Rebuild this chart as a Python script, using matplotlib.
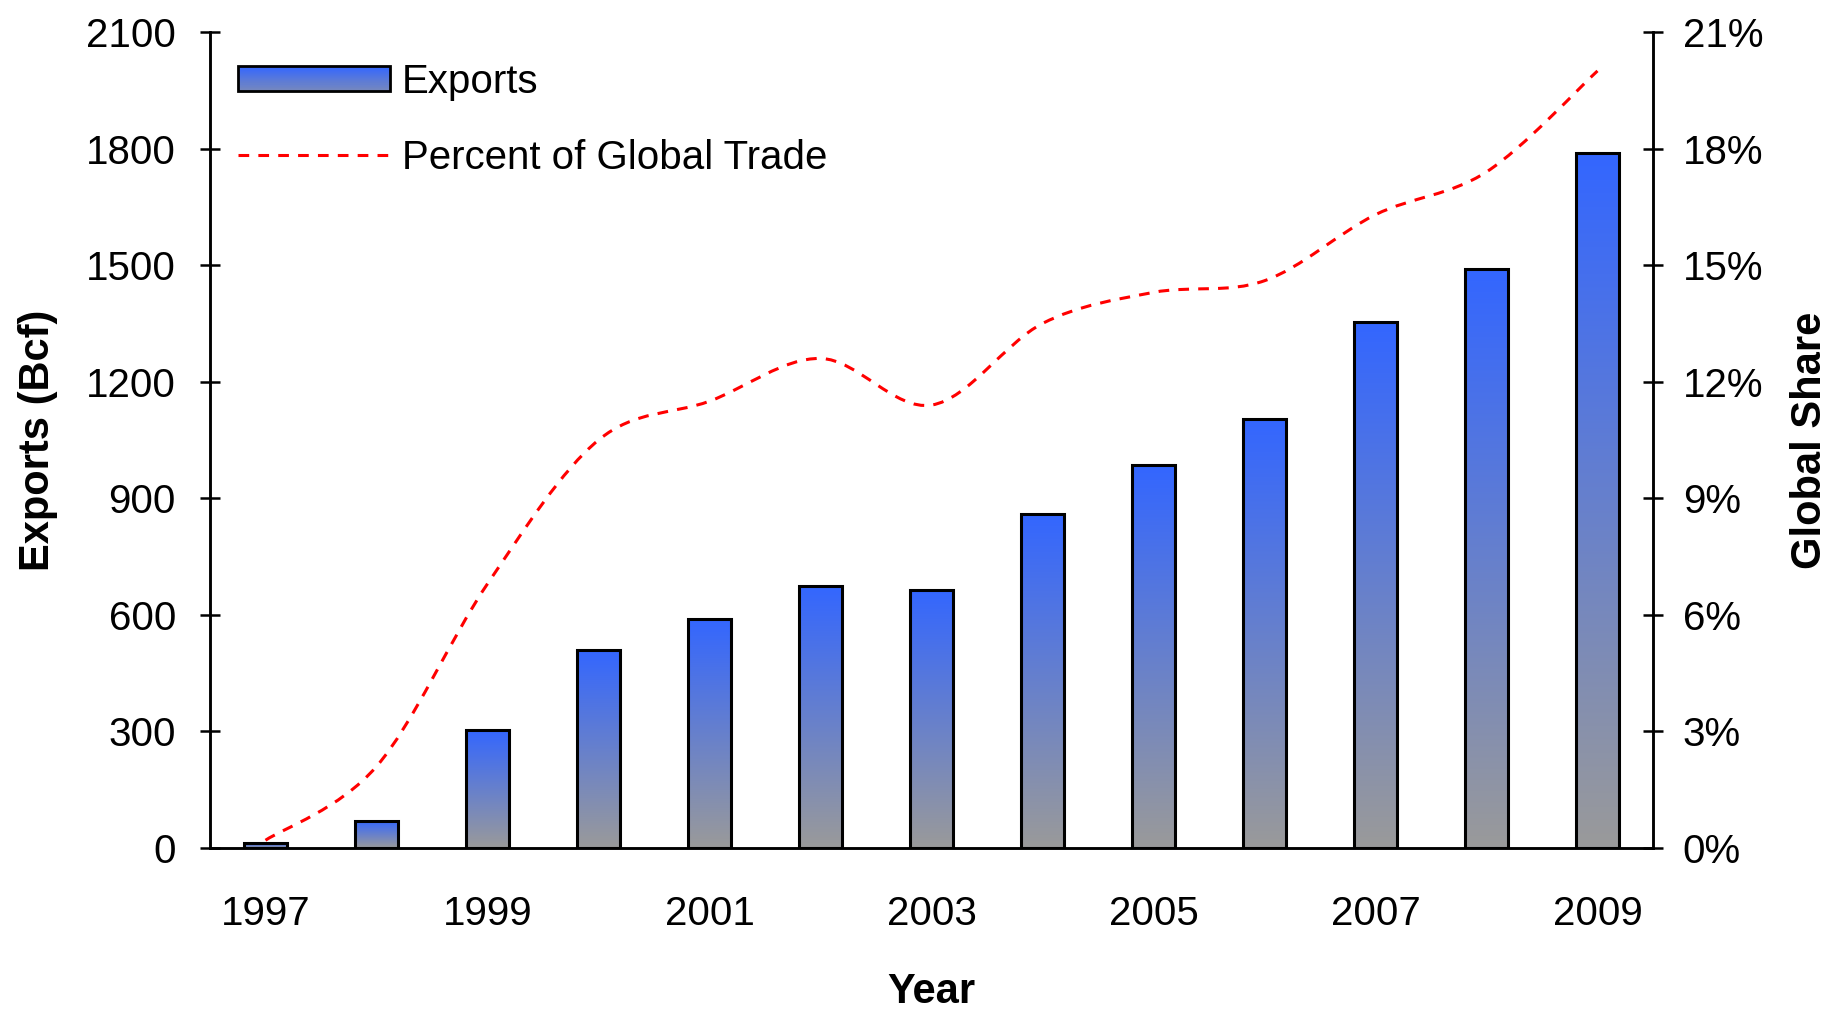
import numpy as np
import matplotlib
matplotlib.use("Agg")
import matplotlib.pyplot as plt
from matplotlib.colors import LinearSegmentedColormap
from matplotlib.legend_handler import HandlerBase
from matplotlib.lines import Line2D
from matplotlib.patches import PathPatch, Rectangle
from matplotlib.path import Path
from matplotlib.ticker import PercentFormatter

years = list(range(1997, 2010))
exports_bcf = [12, 70, 305, 510, 590, 675, 665, 860, 985, 1105, 1355, 1490, 1790]
global_share_pct = [0.2, 2.1, 6.8, 10.5, 11.5, 12.6, 11.4, 13.5, 14.3, 14.6, 16.3, 17.4, 20.0]
year_labels = [str(y) if (y - years[0]) % 2 == 0 else "" for y in years]

plt.rcParams["font.family"] = ["Liberation Sans", "DejaVu Sans"]

# gray at the base of a bar, blue at its top
bar_cmap = LinearSegmentedColormap.from_list("bar_fade", ["#9a9a9a", "#3366ff"])


class GradientBoxHandler(HandlerBase):
    def create_artists(self, legend, orig_handle, xdescent, ydescent,
                       width, height, fontsize, trans):
        n = 24
        x0, y0 = -xdescent, -ydescent
        artists = []
        for i in range(n):
            r = Rectangle((x0, y0 + height * i / n), width, height / n * 1.05,
                          facecolor=bar_cmap(0.35 + 0.65 * i / (n - 1)),
                          edgecolor="none", transform=trans)
            artists.append(r)
        artists.append(Rectangle((x0, y0), width, height, facecolor="none",
                                 edgecolor="black", lw=2, transform=trans))
        return artists


def smooth_path(xs, ys):
    # Catmull-Rom curve through every point, written as cubic Beziers
    pts = np.column_stack([xs, ys]).astype(float)
    padded = np.vstack([pts[0], pts, pts[-1]])
    verts = [pts[0]]
    codes = [Path.MOVETO]
    for i in range(1, len(padded) - 2):
        p0, p1, p2, p3 = padded[i - 1], padded[i], padded[i + 1], padded[i + 2]
        verts += [p1 + (p2 - p0) / 6, p2 - (p3 - p1) / 6, p2]
        codes += [Path.CURVE4] * 3
    return Path(verts, codes)


fig = plt.figure(figsize=(18.34, 10.11), dpi=100)
ax = fig.add_axes([0.1145, 0.1612, 0.7868, 0.8071])
ax2 = ax.twinx()

x = np.arange(len(years))
bar_w = 0.39
grad = np.linspace(0, 1, 256).reshape(-1, 1)
for xi, v in zip(x, exports_bcf):
    ax.imshow(grad, extent=(xi - bar_w / 2, xi + bar_w / 2, 0, v), origin="lower",
              cmap=bar_cmap, vmin=0, vmax=1, aspect="auto", zorder=2)
ax.bar(x, exports_bcf, width=bar_w, facecolor="none", edgecolor="black",
       linewidth=2.2, zorder=3)

ax.set_xlim(-0.5, len(years) - 0.5)
ax.set_ylim(0, 2100)
ax.set_yticks(np.arange(0, 2101, 300))
ax.set_xticks(x)
ax.set_xticklabels(year_labels)

share_line = PathPatch(smooth_path(x, global_share_pct), facecolor="none",
                       edgecolor="#ff0000", lw=2.2, linestyle=(0, (3.5, 3)),
                       zorder=4)
ax2.add_patch(share_line)
ax2.set_ylim(0, 21)
ax2.set_yticks(np.arange(0, 22, 3))
ax2.yaxis.set_major_formatter(PercentFormatter(xmax=100, decimals=0))

for a in (ax, ax2):
    a.spines["top"].set_visible(False)
    for s in ("left", "right", "bottom"):
        a.spines[s].set_linewidth(1.8)
ax.tick_params(axis="y", direction="inout", length=15, width=1.8, pad=17,
               labelsize=29)
ax.tick_params(axis="x", length=0, pad=34, labelsize=29)
ax2.tick_params(axis="y", direction="inout", length=15, width=1.8, pad=14,
                labelsize=29)

ax.set_ylabel("Exports (Bcf)", fontsize=30, fontweight="bold", va="center")
ax.yaxis.set_label_coords(-0.119, 0.5)
ax2.set_ylabel("Global Share", fontsize=30, fontweight="bold", va="center",
               rotation=90)
ax2.yaxis.set_label_coords(1.109, 0.5)
ax.set_xlabel("Year", fontsize=30, fontweight="bold", va="baseline")
ax.xaxis.set_label_coords(0.5, -0.19)

bar_proxy = Rectangle((0, 0), 1, 1)
line_proxy = Line2D([], [], color="#ff0000", lw=2.2, linestyle=(0, (3.5, 3)))
ax2.legend([bar_proxy, line_proxy], ["Exports", "Percent of Global Trade"],
           handler_map={bar_proxy: GradientBoxHandler()},
           loc="upper left", bbox_to_anchor=(0.1298, 0.938),
           bbox_transform=fig.transFigure, frameon=False, fontsize=29,
           borderpad=0, borderaxespad=0, handlelength=3.77, handleheight=0.55,
           handletextpad=0.3, labelspacing=0.94)

fig.savefig("out.png", dpi=100)
